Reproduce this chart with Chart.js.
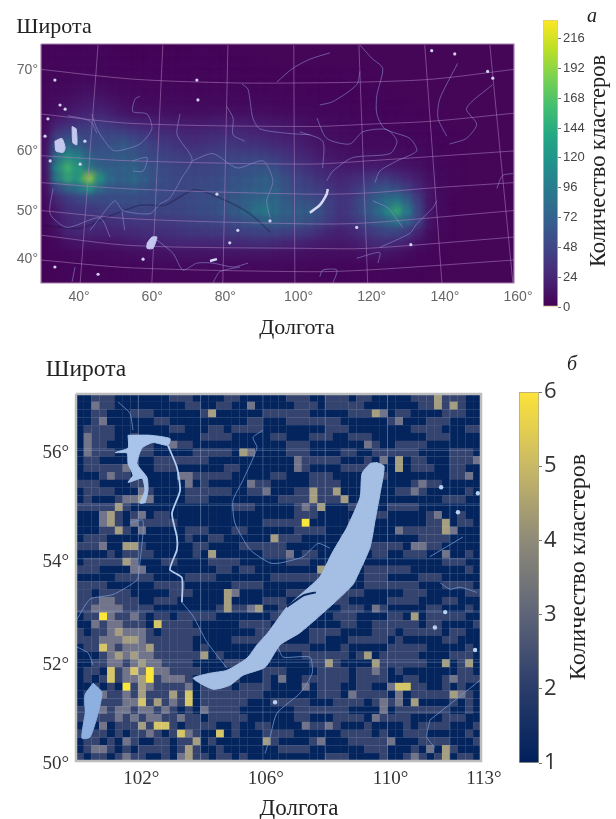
<!DOCTYPE html>
<html>
<head>
<meta charset="utf-8">
<script src="https://cdn.jsdelivr.net/npm/chart.js@4/dist/chart.umd.js"></script>
<style>
html, body { margin: 0; padding: 0; background: #fff; }
#page { position: relative; width: 616px; height: 819px; overflow: hidden; font-family: "Liberation Serif", serif; color: #222; }
canvas { position: absolute; filter: blur(0.45px); }
.t { position: absolute; white-space: nowrap; transform: translate(-50%, -50%); }
.v { transform: translate(-50%, -50%) rotate(-90deg); }
</style>
</head>
<body>
<div id="page">
  <canvas id="mapA" width="560" height="330" style="left:0;top:0"></canvas>
  <canvas id="barA" width="86" height="330" style="left:530px;top:0"></canvas>
  <canvas id="mapB" width="510" height="474" style="left:0;top:345px"></canvas>
  <canvas id="barB" width="111" height="420" style="left:505px;top:370px"></canvas>
  <div class="t" style="left:54px;top:26px;font-size:22px">Широта</div>
  <div class="t" style="left:297px;top:327px;font-size:22px">Долгота</div>
  <div class="t" style="left:592px;top:15px;font-size:20px;font-style:italic">а</div>
  <div class="t v" style="left:598px;top:161px;font-size:22.5px">Количество кластеров</div>
  <div class="t" style="left:86px;top:368px;font-size:23.5px">Широта</div>
  <div class="t" style="left:299px;top:808px;font-size:23px">Долгота</div>
  <div class="t" style="left:572px;top:363px;font-size:20px;font-style:italic">б</div>
  <div class="t v" style="left:577px;top:567px;font-size:24px">Количество кластеров</div>
</div>
<script>
// ---------- panel a data ----------
var lonTicksA = [40, 60, 80, 100, 120, 140, 160];
var latTicksA = [70, 60, 50, 40];
var barTicksA = [0, 24, 48, 72, 96, 120, 144, 168, 192, 216];
var barMaxA = 231;
var lonRangeA = [29.6, 158.9];
var latRangeA = [34.4, 72.5];
var cellLonA = 3;

// clusters per cell, read by eye, west to east, north to south
var heatRowsA = [
  [4,5,4,4,5,5,4,3,3,3,4,3,3,3,4],
  [4,5,5,5,5,5,4,4,3,3,4,4,3,3,4,4,3,3],
  [5,5,5,6,6,5,4,4,4,4,4,4,4,4,4,4,4,4,3,3],
  [5,6,6,7,8,7,6,5,5,5,5,5,4,4,5,5,5,5,4,4,4,4,4,4,4,4,4,4,4],
  [6,7,8,10,12,11,9,7,6,6,6,6,6,5,5,6,6,6,5,5,5,5,5,5,4,4,4,4,4,4,4],
  [6,9,12,15,18,18,14,11,9,8,8,8,8,7,7,8,8,8,7,7,7,6,6,6,5,5,5,5,4,4,4,4],
  [7,12,17,22,26,26,21,16,13,12,12,12,11,10,10,11,12,12,11,10,10,9,9,8,7,6,6,6,5,5,5,4,4,4],
  [8,24,32,38,42,44,38,32,28,25,23,22,20,19,19,20,22,22,20,19,18,16,15,13,10,9,8,7,6,6,6,5,5,5,4,4],
  [10,44,54,54,54,56,54,54,48,42,36,34,31,28,28,31,32,32,31,28,26,23,20,18,15,12,10,9,8,7,7,6,6,5,5,4,4],
  [12,68,85,74,62,60,64,74,64,56,48,44,39,36,36,39,42,42,39,39,36,31,28,23,19,15,12,10,9,8,8,8,7,6,6,5,4,4],
  [14,90,125,110,80,70,70,74,70,62,56,52,49,46,46,49,52,52,52,52,49,44,39,31,26,20,16,14,12,11,11,11,10,9,8,6,5,4],
  [14,115,160,135,100,80,76,78,80,70,62,56,54,52,52,54,56,60,62,65,65,60,49,42,34,28,23,20,19,19,20,20,18,15,12,8,6,5],
  [12,105,150,135,195,125,88,78,88,76,65,60,56,56,56,56,60,65,68,72,78,72,60,52,44,36,31,26,31,36,44,44,36,28,20,12,7,5],
  [10,52,78,95,125,88,70,70,74,68,62,60,56,56,60,60,62,68,72,78,80,78,65,56,52,46,39,33,39,52,62,68,60,46,30,14,7,5],
  [8,28,42,52,58,58,60,62,62,60,60,56,54,56,60,62,65,70,75,82,88,85,72,65,62,56,46,39,44,62,75,90,100,76,44,16,7],
  [6,20,34,39,42,46,52,54,56,56,54,54,54,56,60,62,68,72,80,95,105,90,78,75,75,62,49,39,46,65,80,110,150,105,54,16,7],
  [6,18,28,34,36,36,36,39,42,42,44,44,46,49,52,54,56,60,65,70,78,78,72,70,65,56,44,36,42,54,68,80,100,80,52,15,6],
  [5,12,26,28,28,26,26,28,31,34,36,36,39,42,42,44,44,46,49,52,54,54,49,46,42,34,26,23,28,39,46,54,54,44,26,10,5],
  [4,7,12,15,15,15,15,18,20,23,23,26,28,28,28,28,28,31,31,34,34,31,28,26,23,20,18,18,20,26,31,34,28,23,12,7,4],
  [4,5,6,7,7,7,8,9,10,10,12,12,14,14,14,14,14,14,14,14,14,13,12,12,11,10,10,10,10,12,14,14,12,9,6,4],
  [3,4,5,5,5,5,5,6,6,7,7,8,8,8,9,8,8,8,8,8,8,8,8,7,7,7,6,6,6,6,7,7,6,5,4],
  [3,3,4,4,4,4,4,4,4,5,5,5,5,5,5,5,5,5,5,5,5,5,5,5,5,4,4,4,4,4,4,4,4,4]
];

var parallelsA = [
  [[29.6,70.1],[54.7,69.1],[82.1,68.7],[103.1,68.7],[118.7,68.8],[136.7,69.1],[158.9,70.1]],
  [[29.6,65.1],[54.7,63.9],[103.1,63.5],[118.7,63.8],[136.7,64.2],[158.9,65.2]],
  [[29.6,59.4],[54.7,58.6],[103.1,58.1],[118.7,58.6],[158.9,60.1]],
  [[29.6,55.1],[54.7,54],[103.1,53.1],[118.7,53.3],[136.7,54.2],[158.9,55.1]],
  [[29.6,50.1],[54.7,48.5],[103.1,47.5],[118.7,47.7],[158.9,50.1]],
  [[29.6,45.2],[54.7,43],[103.1,42.4],[118.7,42.4],[158.9,44.8]],
  [[29.6,39.8],[54.7,38],[103.1,37.1],[118.7,37.5],[158.9,39.8]]
];
var meridiansA = [
  [[45.2,72.4],[40.3,34.4]], [[62.9,72.4],[59.9,34.4]], [[80.7,72.4],[79.3,34.4]], [[98.7,72.4],[99,34.4]],
  [[116.5,72.4],[118.9,34.4]], [[134.5,72.4],[139.2,34.4]], [[152.3,72.4],[158.6,34.4]]
];
var riversA = [
  [[43.5,65.1],[44.9,63.2],[47.6,61.1],[49.8,60.1],[56.6,61.1],[59.9,63.2],[58.6,65.1],[54.7,65.4],[55.3,66.9],[56.6,67.2]],
  [[67.6,65.1],[66.8,62.4],[70.9,58.9],[68.1,55.9],[64.8,52.4],[62.1,51.3],[59.4,49.5],[52,50.1],[49.8,51.9],[45.7,48.7],[43,46.2]],
  [[70.9,58.6],[76.6,59.7],[83.2,57.5],[90.3,58.6],[93,55.4],[91.3,51.9],[92.2,48.7]],
  [[80.4,66],[82.1,64.6],[82.1,62.4],[85.3,61.5]],
  [[84.5,68.6],[86.2,68],[87.5,64.6],[89.4,63.2],[96.8,62.6],[103.1,62.4]],
  [[94.1,68.8],[98.4,70.2],[103.1,71.1],[108.6,71.7]],
  [[32.9,54.1],[32.1,49.5],[36.7,46.8],[45.7,48.7],[48.5,44.8]],
  [[61.3,44.2],[65.7,41.3],[68.4,37.5],[72.2,39.1],[76.6,39.1],[82.1,38.2],[86.2,39.1]],
  [[76.6,34.4],[78.5,37.1],[84,38.2]],
  [[38.9,38.2],[38.1,34.7]],
  [[37,64.9],[43,64.2],[44.9,62.6]],
  [[54.5,58.6],[58.6,59.1],[57.5,57],[54.7,57]],
  [[51.7,50.1],[52.5,46.2]],
  [[116.8,72.4],[120,71.2],[123,70.2],[121.4,67.3],[121.4,65.1],[123.6,63.2],[130.4,61.9],[132.3,60.1],[126.9,58.6],[122.2,57],[120.9,55.1]],
  [[105,64.6],[107.7,61.9],[114,61.1],[117.6,62.8],[124.1,63.1],[126.9,61.5],[125,59.7],[114.8,59.1],[109.4,57],[107.7,55.4]],
  [[105.8,66.2],[109.4,66.6],[115.9,68.5],[116.8,69.9]],
  [[100.4,62.8],[106.6,61.5],[106.6,57.5]],
  [[143.5,70.7],[138.6,66.9],[138.1,64.6],[140.5,62.2]],
  [[153,68.5],[145.9,65.8],[148.7,63.8],[145.9,61.9],[141.3,61.1]],
  [[137.8,51.9],[136.7,50.6],[132.3,47.5],[130.4,45.6],[122.2,42.6]],
  [[120.3,51.9],[124.4,50.6],[128.5,46.8]],
  [[115.9,40.2],[122.2,41.5],[121.7,39.1]],
  [[105.8,35.9],[106.6,37.5],[110.5,37.5],[109.4,34.4]],
  [[154.2,54.1],[155.8,56.3],[158.6,56.6]]
];
var borderA = [[30.7,47.2],[40.3,46.6],[48.5,49.1],[56.6,51.1],[63.5,51.1],[71.7,53.9],[81.2,51.6],[86.7,49.5],[92.2,45.9]];
var lakesA = [
  [[33.4,61.5],[35.3,61.9],[36.2,60.6],[35.7,59.9],[33.7,60.1]],
  [[38.1,63.5],[39.2,63.2],[39.4,61],[38.3,61.3]],
  [[58.6,43.5],[59.9,44.8],[61.3,44.8],[60.2,42.4],[58.6,42.4]]
];
var thinLakesA = [
  [[75.8,39.6],[77.7,40]],
  [[103.1,49.7],[105.8,51.1],[107.7,53.1],[108,54]]
];
var lakeDotsA = [
  [33.4,69],[72.2,69],[72.5,66.8],[77.7,53.1],[92.2,48.1],[83.4,46.2],[81.2,43.6],[57.5,40],[45.2,36.5],[33.4,38.2],
  [142.7,71.6],[136.4,71.9],[151.7,69.9],[153.1,69.2],[130.7,43.2],[115.9,46.8],[40.3,58.1],[34.8,66.2],[36.2,65.7],
  [31.5,64.5],[30.7,62.2],[32.1,58.6],[41.6,61.5]
];

// ---------- panel b data ----------
var lonTicksB = [102, 106, 110, 113];
var latTicksB = [56, 54, 52, 50];
var barTicksB = [1, 2, 3, 4, 5, 6];
var lonRangeB = [100, 113];
var latRangeB = [50, 57];
var gridLonsB = [102, 104, 106, 108, 110, 112];
var gridLatsB = [51, 52, 53, 54, 55, 56];
var cellLonB = 0.25;

// one digit per cell, value 1..6, west to east, north to south
var cellRowsB = [
  "1122211111 1122211112 2111111222 1122212211 1112224222 11",
  "1132211111 1111221122 1131111122 2122222111 1111224242 11",
  "1122111222 1111112411 1111222222 1111122243 1221111222 11",
  "1123111111 2211111111 1122111222 2222111111 2311122211 11",
  "1222211111 1122111221 2222111111 1122211111 1112222111 22",
  "1322211211 1111112222 1111122111 2221122211 1111122211 11",
  "1322111222 1132211111 1111111222 1111111321 1222211111 11",
  "1322211222 1111122222 1431111222 1111221122 2222111122 21",
  "1221111111 2222222111 1111111132 2222111213 1412211122 23",
  "1222223111 2221111112 2111111132 1111222211 1412221122 11",
  "1112322111 1113322222 1111122111 2221111222 1111111122 31",
  "2221111221 1111312111 1132211111 2222111111 1112322111 11",
  "1222211132 1111222222 1122311122 4224111111 1223211111 21",
  "1211123343 1111222111 1111112222 4222411111 1111111222 11",
  "2222242111 1111111111 2221111123 2411122211 2222111111 11",
  "1113421231 2211111111 1111111122 2111111222 1111123112 11",
  "1113421322 2221111111 1111222226 1111122211 1111122412 21",
  "1112242131 1111222111 2211111122 2211111111 1322222431 11",
  "1222111111 1111211221 1111142221 1111222111 1111222211 11",
  "2223114421 1111122111 1222222111 1111111222 2213322111 11",
  "1111212222 1111121411 1111222312 2111111122 1122211311 21",
  "1222224311 1221111222 2111111222 1111122111 1111111222 11",
  "2221111331 1111111122 1221111111 1411111222 2221111111 21",
  "1111122222 1111222211 1111122222 2211111222 1111222111 11",
  "2222111111 2222111111 2222111111 1122111222 2222111222 21",
  "2212222111 1122211114 3111111222 1111222111 1122211111 22",
  "2223322211 2221111114 1111222111 1122211111 2222111221 11",
  "2233332222 1111111124 2234112211 1111222132 1111122111 21",
  "1226322321 2212222211 1111122111 1112221111 2214122222 11",
  "1132332221 5222211111 1222211111 1111221122 2222122111 12",
  "2122343332 1222221111 1112211111 2222111122 2122222122 11",
  "2223334432 2222211111 2222221111 2211122222 1211111221 11",
  "1225323334 2222212111 1111122222 1111211111 2222211111 21",
  "1112343433 2222224121 1111111112 2222212412 2222111122 21",
  "1122332343 3222211112 2211111111 2242111142 2222211412 41",
  "1221523536 3322221111 1111222111 1222212232 1211111112 21",
  "1212523346 2333212222 2111213112 2222212222 1122111232 22",
  "1121216243 2222312222 1222211113 1222112211 3552211212 11",
  "1213223242 2242512222 2222111111 1222132222 1312222243 21",
  "1212223352 4232512222 2211122222 1112222123 2314111121 21",
  "2123233233 2321213222 2111111122 2222211113 1222222211 21",
  "2122232323 3223221222 2211111122 1112222132 2221111222 11",
  "1213122242 5521222211 2112211113 2232111211 1121222211 12",
  "2122121223 2125321151 2111222211 1111222212 1122211111 21",
  "1221213211 2212241211 1111421111 2311122222 3111222211 12",
  "1233212122 2212421121 1111112222 1111111222 1112131421 11",
  "2122123221 1213422122 1211111111 1122211112 1123212412 21"
];

var baikalB = [
  [109.66,55.78],[109.89,55.71],[109.76,55.22],[109.6,54.72],[109.44,54.22],[109.02,53.66],[108.89,53.51],[108.31,53.17],
  [107.19,52.58],[106.55,52.34],[106.07,51.9],[105.36,51.74],[104.94,51.54],[104.4,51.46],[103.76,51.68],[104.3,51.78],
  [104.85,51.84],[105.49,52.08],[105.81,52.34],[106.16,52.58],[106.77,53.08],[107.29,53.36],[107.83,53.66],[108.22,54.11],
  [108.7,54.59],[109.12,55.15],[109.18,55.58],[109.44,55.76]
];
var olkhonB = [[106.77,53.08],[107.29,53.3],[107.7,53.36]];
var bratskB = [
  [101.67,56.27],[102.38,56.27],[103.02,56.21],[102.95,56.09],[102.47,56.14],[102.12,56.04],[101.96,55.76],[102.28,55.51],
  [102.31,55.27],[102.21,55.05],[102.05,55.04],[102.21,55.27],[102.12,55.49],[101.67,55.42],[101.83,55.55],[101.67,55.76],
  [101.64,55.95],[101.25,55.96],[101.67,56.04]
];
var khubsugulB = [[100.55,51.58],[100.83,51.4],[100.71,50.98],[100.45,50.49],[100.19,50.47],[100.29,50.98],[100.29,51.35]];
var angaraB = [
  [102.95,56.09],[103.24,55.69],[103.34,55.27],[103.08,54.85],[103.24,54.41],[103.24,54.17],[103.08,53.93],[103.02,53.79],
  [103.4,53.64],[103.4,53.17]
];
var riversB = [
  [[103.4,53.17],[103.76,52.9],[104.2,52.4],[104.85,51.88]],
  [[101.35,56.86],[101.73,56.66],[101.83,56.36]],
  [[101.73,54.67],[102.15,54.72],[102.05,53.92],[101.96,53.6],[101.19,53.32],[100.45,53.23],[100.03,52.84]],
  [[106,56.36],[105.68,56.23],[105.81,56.05],[105.36,55.46],[105.04,55.09],[105.1,54.67],[105.59,54.17],[106.23,53.92],[106.55,53.92],[107.29,54.04],[107.77,54.29],[108.15,54.2]],
  [[106.48,52.3],[106.65,52.1],[107.51,52.1],[107.58,51.78],[107.19,51.38],[106.45,50.98],[106.23,50.49],[106.07,50.16]],
  [[111.36,50.84],[112.97,51.64]],
  [[111.36,50.84],[111.26,50.49],[111.52,50.28]],
  [[111.68,53.55],[112,53.42],[112.33,53.46],[112.87,53.36]],
  [[111.36,54.04],[112.42,54.41]],
  [[100.03,52.3],[100.39,52.18],[100.55,51.94]]
];
var lakeDotsB = [[111.52,52.68],[112.81,52.24],[106.39,51.2],[111.85,52.98],[112.26,54.87],[112.9,55.22],[111.72,55.33]];

// ---------- colours ----------
var viridis = ["#440154", "#482576", "#414487", "#35608d", "#2a788e", "#21918c", "#22a884", "#44bf70", "#7ad151", "#bddf26", "#fde725"];
var cellColorsB = { 1: "#03245c", 2: "#35436f", 3: "#72748a", 4: "#a59e80", 5: "#d6c66a", 6: "#fbe63c" };
var barColorsB = ["#00205c", "#2a3c6a", "#5e6478", "#8e8a78", "#c9b966", "#fde33a"];

function hex2rgb(h) {
    return [parseInt(h.substr(1, 2), 16), parseInt(h.substr(3, 2), 16), parseInt(h.substr(5, 2), 16)];
}

function viridisColor(v) {
    var t = Math.min(v / barMaxA, 0.9999) * (viridis.length - 1);
    var i = Math.floor(t);
    var a = hex2rgb(viridis[i]);
    var b = hex2rgb(viridis[i + 1]);
    var f = t - i;
    return "rgb(" + a.map(function (c, k) { return Math.round(c + (b[k] - c) * f); }).join(",") + ")";
}

// both maps are plain Mercator, so latitudes go through this before the linear y scale
function merc(lat) {
    return Math.log(Math.tan(Math.PI / 4 + lat * Math.PI / 360)) * 180 / Math.PI;
}

function toXY(p) {
    return { x: p[0], y: merc(p[1]) };
}

function line(pts, color, width, tension) {
    return { data: pts.map(toXY), showLine: true, pointRadius: 0, borderColor: color, borderWidth: width, tension: tension || 0, fill: false };
}

function area(pts, color) {
    var closed = pts.concat([pts[0]]);
    return { data: closed.map(toXY), showLine: true, pointRadius: 0, borderColor: color, borderWidth: 1, backgroundColor: color, fill: "shape", tension: 0.2 };
}

function frame(range, rangeY, color, width) {
    var d = line([[range[0], rangeY[1]], [range[1], rangeY[1]], [range[1], rangeY[0]], [range[0], rangeY[0]], [range[0], rangeY[1]]], color, width);
    d.clip = false;
    return d;
}

function dots(pts, color, radius) {
    return { data: pts.map(toXY), pointRadius: radius, pointBackgroundColor: color, pointBorderWidth: 0 };
}

// smooth density look of panel a
var softCells = {
    id: "softCells",
    beforeDatasetDraw: function (chart, args) {
        var ds = chart.data.datasets[args.index];
        if (ds.soft) { chart.ctx.save(); chart.ctx.filter = "blur(" + ds.soft + "px)"; }
    },
    afterDatasetDraw: function (chart, args) {
        if (chart.data.datasets[args.index].soft) { chart.ctx.restore(); }
    }
};

function mapOptions(o) {
    return {
        responsive: false,
        animation: false,
        layout: { autoPadding: false, padding: o.padding },
        plugins: { legend: { display: false }, tooltip: { enabled: false } },
        scales: {
            x: {
                type: "linear", min: o.lon[0], max: o.lon[1],
                grid: { display: false, drawTicks: false }, border: { display: false },
                afterFit: function (s) { s.height = o.axisHeight; },
                afterBuildTicks: function (s) { s.ticks = o.lonTicks.map(function (v) { return { value: v }; }); },
                ticks: {
                    autoSkip: false, maxRotation: 0, padding: o.padX, color: o.tickColor, font: o.tickFont, labelOffset: o.offset,
                    callback: function (v) { return v + "°"; }
                }
            },
            y: {
                type: "linear", min: merc(o.lat[0]), max: merc(o.lat[1]),
                grid: { display: false, drawTicks: false }, border: { display: false },
                afterFit: function (s) { s.width = o.axisWidth; },
                afterBuildTicks: function (s) { s.ticks = o.latTicks.map(function (v) { return { value: merc(v) }; }); },
                ticks: {
                    autoSkip: false, padding: o.padY, color: o.tickColor, font: o.tickFont, labelOffset: o.offset,
                    callback: function (v, i) { return o.latTicks[i] + "°"; }
                }
            }
        }
    };
}

function colorBar(id, o) {
    new Chart(document.getElementById(id), {
        type: "bar",
        data: {
            labels: [""],
            datasets: [{
                data: [[o.min, o.max]],
                barPercentage: 1,
                categoryPercentage: 1,
                borderWidth: 1,
                borderColor: o.edge,
                borderSkipped: false,
                backgroundColor: function (c) {
                    var a = c.chart.chartArea;
                    if (!a) { return o.colors[0]; }
                    var g = c.chart.ctx.createLinearGradient(0, a.bottom, 0, a.top);
                    o.colors.forEach(function (col, i) { g.addColorStop(i / (o.colors.length - 1), col); });
                    return g;
                }
            }]
        },
        options: {
            responsive: false,
            animation: false,
            layout: { autoPadding: false, padding: o.padding },
            plugins: { legend: { display: false }, tooltip: { enabled: false } },
            scales: {
                x: { display: false },
                y: {
                    position: "right", min: o.min, max: o.max,
                    grid: { drawOnChartArea: false, tickLength: 3, tickColor: "#777" }, border: { display: false },
                    afterFit: function (s) { s.width = o.axisWidth; },
                    afterBuildTicks: function (s) { s.ticks = o.ticks.map(function (v) { return { value: v }; }); },
                    ticks: { autoSkip: false, padding: o.padL, color: o.color, font: o.font }
                }
            }
        }
    });
}

// ---------- panel a ----------
var rowStepA = (merc(latRangeA[1]) - merc(latRangeA[0])) / heatRowsA.length;
var cellsA = [];
heatRowsA.forEach(function (row, r) {
    row.forEach(function (v, c) {
        cellsA.push({ x: lonRangeA[0] + (c + 0.5) * cellLonA, y: merc(latRangeA[1]) - (r + 0.5) * rowStepA, v: v });
    });
});

// drawn back to front, Chart.js paints the first dataset last so the list is reversed below
var layersA = [];
layersA.push(area([[lonRangeA[0], latRangeA[1]], [lonRangeA[1], latRangeA[1]], [lonRangeA[1], latRangeA[0]], [lonRangeA[0], latRangeA[0]]], viridisColor(3)));
layersA[0].tension = 0;
layersA.push({
    data: cellsA, soft: 3.5, pointStyle: "rect", pointRadius: 9.5, pointBorderWidth: 0,
    pointBackgroundColor: function (c) { return c.raw ? viridisColor(c.raw.v) : "#000"; }
});
layersA.push(line(borderA, "rgba(20,10,45,0.3)", 1.5, 0.2));
riversA.forEach(function (r) { layersA.push(line(r, "rgba(140,138,205,0.6)", 1, 0.25)); });
parallelsA.forEach(function (p) { layersA.push(line(p, "rgba(172,125,190,0.55)", 1, 0.3)); });
meridiansA.forEach(function (p) { layersA.push(line(p, "rgba(172,125,190,0.55)", 1)); });
lakesA.forEach(function (p) { layersA.push(area(p, "#c4c8ee")); });
thinLakesA.forEach(function (p) { layersA.push(line(p, "#d6d8f4", 2.5, 0.2)); });
layersA.push(dots(lakeDotsA, "#d0d2f2", 1.6));
layersA.push(frame(lonRangeA, latRangeA, "#a982ad", 1.2));

new Chart(document.getElementById("mapA"), {
    type: "scatter",
    data: { datasets: layersA.reverse() },
    options: mapOptions({
        padding: { left: 0, top: 44, right: 46, bottom: 0 },
        lon: lonRangeA, lat: latRangeA, lonTicks: lonTicksA, latTicks: latTicksA,
        axisHeight: 47, axisWidth: 41, padX: 6, padY: 3, offset: 0,
        tickColor: "#666", tickFont: { family: "Liberation Sans", size: 14 }
    }),
    plugins: [softCells]
});

colorBar("barA", {
    min: 0, max: barMaxA, ticks: barTicksA, colors: viridis, edge: "#d8c98a",
    padding: { left: 13, right: 0, top: 20, bottom: 23 }, axisWidth: 58,
    padL: 2, color: "#444", font: { family: "Liberation Sans", size: 13 }
});

// ---------- panel b ----------
var parsedRowsB = cellRowsB.map(function (s) { return s.replace(/ /g, "").split("").map(Number); });
var rowStepB = (merc(latRangeB[1]) - merc(latRangeB[0])) / parsedRowsB.length;
var cellsB = [];
parsedRowsB.forEach(function (row, r) {
    row.forEach(function (v, c) {
        cellsB.push({ x: lonRangeB[0] + (c + 0.5) * cellLonB, y: merc(latRangeB[1]) - (r + 0.5) * rowStepB, v: v });
    });
});

var layersB = [];
layersB.push({
    data: cellsB, pointStyle: "rect", pointRadius: 5.7, pointBorderWidth: 0,
    pointBackgroundColor: function (c) { return c.raw ? cellColorsB[c.raw.v] : "#000"; }
});
gridLonsB.forEach(function (l) { layersB.push(line([[l, latRangeB[0]], [l, latRangeB[1]]], "rgba(150,175,210,0.38)", 1)); });
gridLatsB.forEach(function (l) { layersB.push(line([[lonRangeB[0], l], [lonRangeB[1], l]], "rgba(150,175,210,0.38)", 1)); });
riversB.forEach(function (r) { layersB.push(line(r, "rgba(112,150,208,0.8)", 1, 0.2)); });
layersB.push(line(angaraB, "#b4ccee", 1.8, 0.2));
layersB.push(area(bratskB, "#a9c4ea"));
layersB.push(area(baikalB, "#a5bfe4"));
layersB.push(line(olkhonB, "#0a2a60", 2, 0.2));
layersB.push(area(khubsugulB, "#8db0e0"));
layersB.push(dots(lakeDotsB, "#b8d2f2", 2.2));
layersB.push(frame(lonRangeB, latRangeB, "#bdbdbd", 2.5));

new Chart(document.getElementById("mapB"), {
    type: "scatter",
    data: { datasets: layersB.reverse() },
    options: mapOptions({
        padding: { left: 0, top: 49, right: 29, bottom: 0 },
        lon: lonRangeB, lat: latRangeB, lonTicks: lonTicksB, latTicks: latTicksB,
        axisHeight: 58, axisWidth: 76, padX: 7, padY: 7, offset: 3,
        tickColor: "#333", tickFont: { family: "Liberation Serif", size: 19 }
    })
});

colorBar("barB", {
    min: 1, max: 6, ticks: barTicksB, colors: barColorsB, edge: "#a8a68c",
    padding: { left: 14, right: 0, top: 22, bottom: 27 }, axisWidth: 77,
    padL: 2, color: "#333", font: { family: "Open Sans", size: 22 }
});
</script>
</body>
</html>
